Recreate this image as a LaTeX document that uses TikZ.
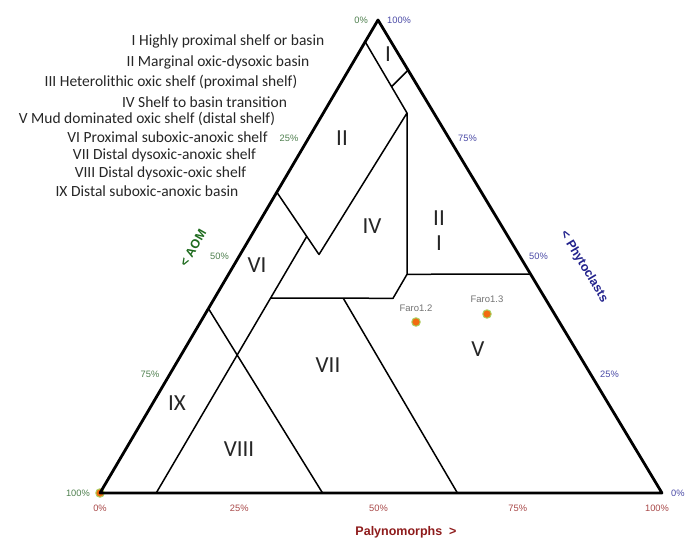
\documentclass[tikz,border=0pt]{standalone}
\usepackage{fontspec}
\setmainfont{Carlito}
\newfontfamily\arialf{Liberation Sans}
\usetikzlibrary{calc}
\definecolor{aomgreen}{HTML}{1E6B1E}
\definecolor{aomtick}{HTML}{4E7F4E}
\definecolor{phyblue}{HTML}{22228C}
\definecolor{phytick}{HTML}{4A4AA6}
\definecolor{palred}{HTML}{8E1B1B}
\definecolor{paltick}{HTML}{A84848}
\definecolor{dotorange}{HTML}{F26B0F}
\definecolor{dotgreen}{HTML}{A8D060}
\begin{document}
\begin{tikzpicture}[x=1pt,y=-1pt,line join=round,line cap=round,
	tri/.style={line width=2.8pt},
	zone/.style={line width=1.5pt},
	legend/.style={font=\fontsize{15.5}{18}\selectfont,text=black!85},
	roman/.style={font=\fontsize{23}{25}\selectfont,text=black!85},
	tick/.style={font=\arialf\fontsize{9.3}{11}\selectfont,inner sep=0pt},
	title/.style={font=\arialf\bfseries\fontsize{12.5}{14}\selectfont,inner sep=0pt},
	sample/.style={circle,fill=dotorange,draw=dotgreen,line width=1pt,inner sep=0pt,minimum size=8.5pt},
	samplelbl/.style={font=\arialf\fontsize{9.5}{11}\selectfont,text=black!55}]
	\useasboundingbox (0,0) rectangle (699,542);
	% dinh tam giac
	\coordinate (A) at (100,493);
	\coordinate (B) at (662,493);
	\coordinate (C) at (378,20);
	% cac diem ranh gioi
	\coordinate (p1) at ($(C)!0.046!(A)$);
	\coordinate (p2) at (407,113);
	\coordinate (q1) at ($(p1)!0.63!(p2)$);
	\coordinate (q2) at ($(C)!0.106!(B)$);
	\coordinate (p3) at ($(C)!0.364!(A)$);
	\coordinate (p4) at (319,254.5);
	\coordinate (p5) at ($(p3)!0.71!(p4)$);
	\coordinate (p6) at ($(A)!0.1!(B)$);
	\coordinate (h1) at ($(p5)!0.24!(p6)$);
	\coordinate (h2) at (393,298.3);
	\coordinate (h3) at (407,274.3);
	\coordinate (h4) at ($(C)!0.537!(B)$);
	\coordinate (v1) at (343.3,298.3);
	\coordinate (v2) at ($(A)!0.636!(B)$);
	\coordinate (w1) at ($(C)!0.61!(A)$);
	\coordinate (w2) at ($(A)!0.396!(B)$);
	\node[sample] (s0) at (A) {};
	\draw[tri] (A)--(B)--(C)--cycle;
	\draw[zone] (p1)--(p2)--(h3) (q1)--(q2) (p3)--(p4)--(p2) (p5)--(p6)
	(h1)--(h2)--(h3)--(h4) (v1)--(v2) (w1)--(w2);
	% nhan tren ba canh
	\foreach \t in {0,25,50,75,100}
	\node[tick,text=aomtick,anchor=east] (aom\t) at ($(C)!\t/100!(A)+(-10,0)$) {\t\%};
	\foreach \t/\v in {0/100,25/75,50/50,75/25,100/0}
	\node[tick,text=phytick,anchor=west] (phy\v) at ($(C)!\t/100!(B)+(9,0)$) {\v\%};
	\foreach \t in {0,25,50,75,100}
	\node[tick,text=paltick] (pal\t) at ($(A)!\t/100!(B)+(-0.05*\t,15)$) {\t\%};
	\path 
	(193,248) node[title,text=aomgreen,rotate=60] (aomtitle) {< AOM}
	(584,267) node[title,text=phyblue,rotate=-59] (phytitle) {< Phytoclasts}
	(406,532) node[title,text=palred] (paltitle) {Palynomorphs\ \ >};
	\path 
	(388,54) node[roman] (rI) {I}
	(342,138) node[roman] (rII) {II}
	(439,230.5) node[roman,align=center] (rIII) {II\\I}
	(372,226) node[roman] (rIV) {IV}
	(478,349) node[roman] (rV) {V}
	(257,265) node[roman] (rVI) {VI}
	(328,365) node[roman] (rVII) {VII}
	(239,449) node[roman] (rVIII) {VIII}
	(177,403) node[roman] (rIX) {IX};
	\path 
	(416,322) node[sample] (faro12) {}
	(487,314) node[sample] (faro13) {};
	\node[samplelbl] (lbl12) at (416,308) {Faro1.2};
	\node[samplelbl] (lbl13) at (487,299) {Faro1.3};
	% chu giai
	\path[legend]
	(228,41) node (l1) {I Highly proximal shelf or basin}
	(218,62) node (l2) {II Marginal oxic-dysoxic basin}
	(171,82) node (l3) {III Heterolithic oxic shelf (proximal shelf)}
	(204.5,102) node (l4) {IV Shelf to basin transition}
	(147,119) node (l5) {V Mud dominated oxic shelf (distal shelf)}
	(167.5,137) node (l6) {VI Proximal suboxic-anoxic shelf}
	(164.5,155) node (l7) {VII Distal dysoxic-anoxic shelf}
	(160.5,173) node (l8) {VIII Distal dysoxic-oxic shelf}
	(147,191) node (l9) {IX Distal suboxic-anoxic basin};
\end{tikzpicture}
\end{document}
